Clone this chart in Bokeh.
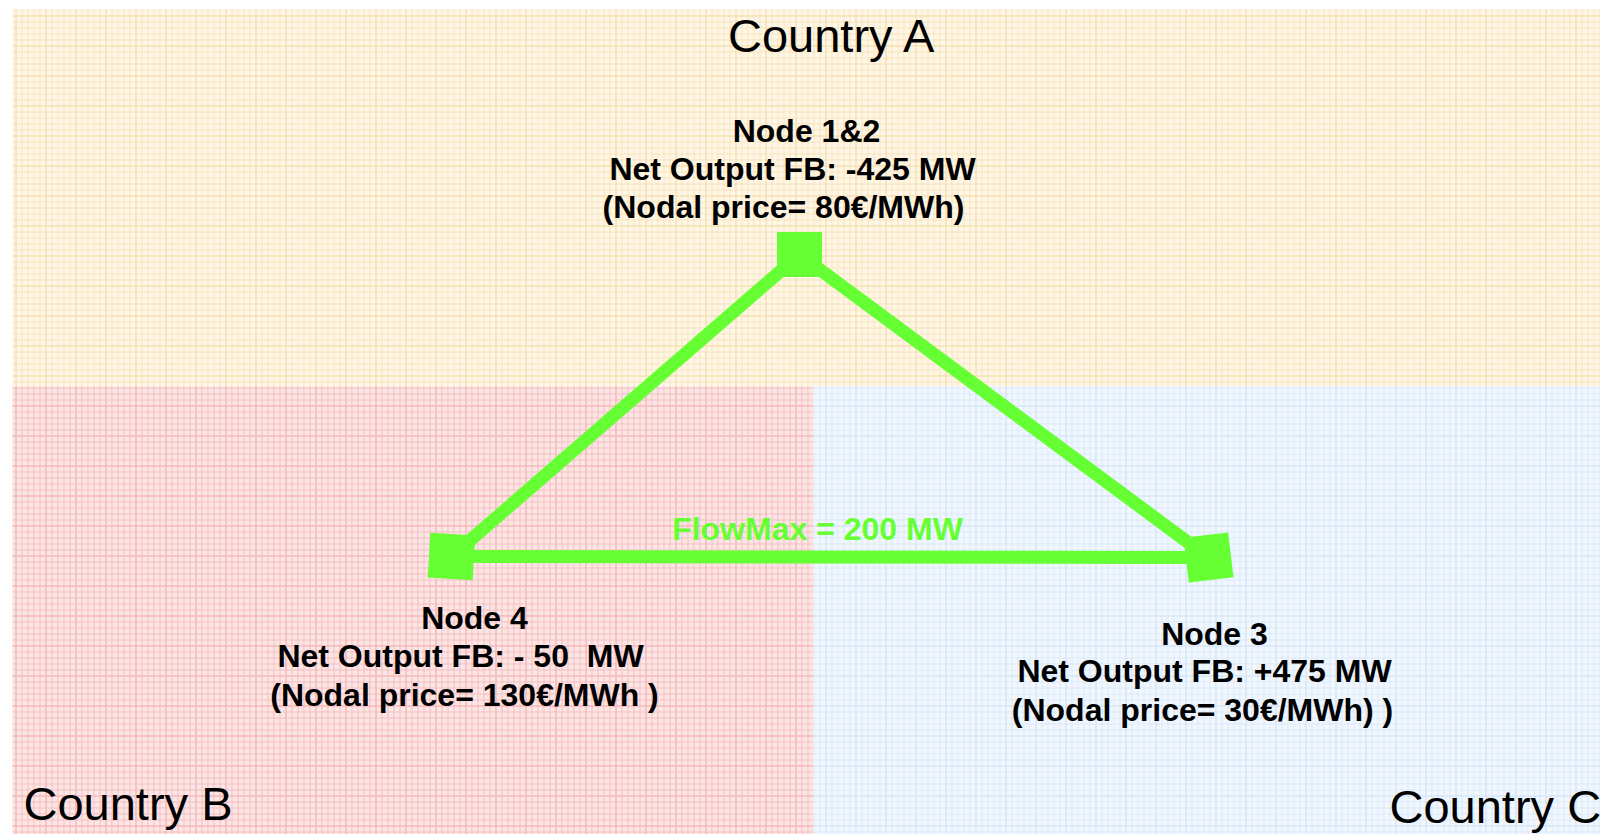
from bokeh.plotting import figure
from bokeh.models import Range1d, ColumnDataSource
from bokeh.embed import file_html
from bokeh.resources import INLINE
from bokeh.core.properties import value

# ---- data (page pixel coordinates) ----
region_names = ["Country A", "Country B", "Country C"]
region_left = [12, 12, 813]
region_right = [1600, 813, 1600]
region_top = [9, 386, 386]
region_bottom = [386, 834, 834]
region_fill = ["#FEF7E7", "#FCE5E5", "#F1F7FE"]
region_hatch = ["#F7E0B0", "#F4B8B8", "#D6E6F7"]

country_labels = ["Country A", "Country B", "Country C"]
country_x = [832, 23, 1389]
country_y = [35, 803, 806]
country_align = ["center", "left", "left"]

node_names = ["Node 1&2", "Node 4", "Node 3"]
node_x = [799, 451, 1208]
node_y = [254, 556, 557]
node_angle = [0.0, -0.06, 0.12]

edge_from = [0, 0, 1]
edge_to = [1, 2, 2]

label_lines = [
    "Node 1&2", "Net Output FB: -425 MW", "(Nodal price= 80€/MWh)",
    "Node 4", "Net Output FB: - 50\u00a0 MW", "(Nodal price= 130€/MWh )",
    "Node 3", "Net Output FB: +475 MW", "(Nodal price= 30€/MWh) )",
]
label_x = [806, 792, 783, 474, 460, 464, 1214, 1204, 1202]
label_y = [130, 168, 206, 617, 655, 694, 633, 670, 709]

flow_label = ["FlowMax = 200 MW"]
flow_x = [817]
flow_y = [528]

GREEN = "#66FF33"

W, H = 1600, 834
p = figure(width=W, height=H, output_backend="svg", toolbar_location=None,
           x_range=Range1d(0, W), y_range=Range1d(H, 0),
           min_border=0, outline_line_color=None)
p.axis.visible = False
p.grid.visible = False
p.background_fill_color = "white"
p.border_fill_color = "white"

# regions with graph-paper texture
reg = ColumnDataSource(dict(left=region_left, right=region_right, top=region_top,
                            bottom=region_bottom, fill=region_fill, hatch=region_hatch))
p.quad(left="left", right="right", top="top", bottom="bottom", source=reg,
       fill_color="fill", line_color=None,
       hatch_pattern="+", hatch_color="hatch", hatch_scale=6, hatch_weight=1, hatch_alpha=0.8)
p.quad(left="left", right="right", top="top", bottom="bottom", source=reg,
       fill_alpha=0, line_color=None,
       hatch_pattern="+", hatch_color="hatch", hatch_scale=30, hatch_weight=1.5, hatch_alpha=0.7)

# edges
xs = [[node_x[a], node_x[b]] for a, b in zip(edge_from, edge_to)]
ys = [[node_y[a], node_y[b]] for a, b in zip(edge_from, edge_to)]
p.multi_line(xs=xs, ys=ys, line_color=GREEN, line_width=13)

# nodes
p.scatter(x=node_x, y=node_y, marker="square", size=45, angle=node_angle,
          fill_color=GREEN, line_color=None)

# country labels
p.text(x=country_x, y=country_y, text=country_labels,
       text_align=country_align, text_baseline="middle",
       text_font=value("Liberation Sans"), text_font_size="47px", text_color="black")

# node labels
p.text(x=label_x, y=label_y, text=label_lines, text_align="center", text_baseline="middle",
       text_font=value("Liberation Sans"), text_font_size="32px", text_font_style="bold",
       text_color="black")

p.text(x=flow_x, y=flow_y, text=flow_label, text_align="center", text_baseline="middle",
       text_font=value("Liberation Sans"), text_font_size="32px", text_font_style="bold",
       text_color=GREEN)

open("out.html", "w").write(file_html(p, INLINE))
